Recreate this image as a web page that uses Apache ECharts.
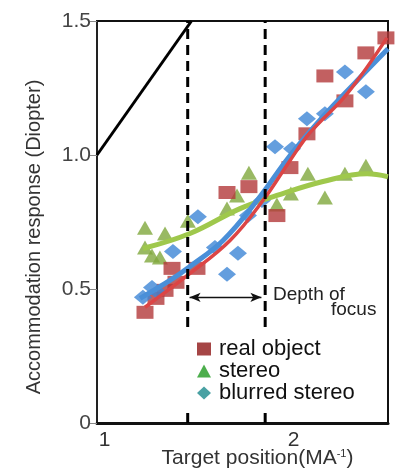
<!DOCTYPE html>
<html>
<head>
<meta charset="utf-8">
<script src="https://cdn.jsdelivr.net/npm/echarts@6/dist/echarts.min.js"></script>
<style>
html,body{margin:0;padding:0;background:#fff;}
#chart{width:396px;height:469px;}
</style>
</head>
<body>
<div id="chart"></div>
<script>
// ---- data ----
var xTicks = [1, 2];
var yTicks = [0, 0.5, 1.0, 1.5];
var legendNames = ['real object', 'stereo', 'blurred stereo'];

var realObject = [
  [1.214, 0.413], [1.272, 0.465], [1.320, 0.495], [1.378, 0.525],
  [1.357, 0.577], [1.489, 0.577], [1.648, 0.860], [1.764, 0.882],
  [1.912, 0.774], [1.981, 0.953], [2.071, 1.079], [2.166, 1.295],
  [2.272, 1.202], [2.383, 1.381], [2.489, 1.437]
];
var stereo = [
  [1.214, 0.729], [1.320, 0.707], [1.251, 0.625], [1.214, 0.655],
  [1.293, 0.618], [1.441, 0.755], [1.648, 0.800], [1.701, 0.849],
  [1.764, 0.934], [1.912, 0.815], [1.986, 0.856], [2.076, 0.930],
  [2.166, 0.841], [2.272, 0.930], [2.383, 0.960]
];
var blurredStereo = [
  [1.203, 0.469], [1.251, 0.506], [1.283, 0.488], [1.362, 0.640],
  [1.494, 0.770], [1.584, 0.655], [1.648, 0.555], [1.706, 0.633],
  [1.759, 0.774], [1.833, 0.830], [1.902, 1.031], [1.992, 1.023],
  [2.071, 1.135], [2.166, 1.154], [2.272, 1.310], [2.383, 1.236]
];
var realFit = [
  [1.214, 0.432], [1.452, 0.558], [1.664, 0.681], [1.838, 0.830],
  [1.981, 0.979], [2.087, 1.083], [2.283, 1.228], [2.494, 1.437]
];
var blurredFit = [
  [1.188, 0.465], [1.346, 0.532], [1.452, 0.584], [1.627, 0.681],
  [1.807, 0.830], [1.981, 0.997], [2.156, 1.143], [2.325, 1.269], [2.500, 1.396]
];
var stereoFit = [
  [1.203, 0.651], [1.452, 0.707], [1.717, 0.800], [1.912, 0.849],
  [2.156, 0.901], [2.389, 0.930], [2.500, 0.919]
];
var unityLine = [[0.96, 1.0], [1.46, 1.5]];
var focusLimits = [1.44, 1.85];
var arrowY = 0.469;
var arrowSpan = [1.45, 1.83];

// ---- chart ----
var chart = echarts.init(document.getElementById('chart'), null, {renderer: 'canvas'});
var FONT = 'Liberation Sans, Arial, sans-serif';

function dashedSeries(xv, withArrow) {
  var s = {
    type: 'line', name: 'dash' + xv,
    data: [[xv, 0], [xv, 1.5]],
    symbol: 'none', silent: true, z: 4,
    lineStyle: {color: '#000', width: 3, type: [10, 6]}
  };
  if (withArrow) {
    s.markLine = {
      silent: true, symbol: ['arrow', 'arrow'], symbolSize: [7, 11],
      label: {show: false},
      lineStyle: {color: '#111', width: 1.3, type: 'solid'},
      data: [[{coord: [arrowSpan[0], arrowY]}, {coord: [arrowSpan[1], arrowY]}]]
    };
  }
  return s;
}

var option = {
  animation: false,
  backgroundColor: '#fff',
  grid: {left: 97, right: 8, top: 21, bottom: 46, show: true, borderColor: '#111', borderWidth: 2,
    containLabel: false, outerBoundsMode: 'none'},
  xAxis: {
    type: 'value', min: 0.96, max: 2.5,
    splitLine: {show: false},
    axisLine: {lineStyle: {color: '#111', width: 3}},
    axisTick: {show: false},
    axisLabel: {customValues: xTicks, color: '#333', fontSize: 21, fontFamily: FONT, margin: 7,
      formatter: function (v) { return String(v); }},
    name: 'Target position(MA{sup|-1})',
    nameLocation: 'middle', nameGap: 25, nameMoveOverlap: false,
    nameTextStyle: {color: '#333', fontSize: 21, fontFamily: FONT, padding: [0, 0, 0, 30],
      rich: {sup: {fontSize: 11, verticalAlign: 'top', padding: [0, 0, 10, 0], color: '#333', fontFamily: FONT}}}
  },
  yAxis: {
    type: 'value', min: 0, max: 1.5, interval: 0.5,
    splitLine: {show: false},
    axisLine: {show: true, lineStyle: {color: '#222', width: 2}},
    axisTick: {show: true, length: 7, lineStyle: {color: '#888', width: 1}},
    axisLabel: {color: '#444', fontSize: 21, fontFamily: FONT, margin: 6,
      formatter: function (v) { return v === 0 ? '0' : v.toFixed(1); }},
    name: 'Accommodation response (Diopter)',
    nameLocation: 'middle', nameGap: 53,
    nameTextStyle: {color: '#333', fontSize: 20, fontFamily: FONT, padding: [0, 30, 0, 0]}
  },
  legend: {
    orient: 'vertical', left: 183, top: 331, itemGap: 0,
    padding: [7, 30, 8, 14],
    backgroundColor: '#fff', z: 10,
    itemWidth: 14, itemHeight: 13, selectedMode: false,
    data: [
      {name: legendNames[0], icon: 'rect'},
      {name: legendNames[1], icon: 'triangle'},
      {name: legendNames[2], icon: 'diamond'}
    ],
    textStyle: {color: '#111', fontSize: 22, lineHeight: 21, fontFamily: FONT, padding: [0, 0, 0, 3]}
  },
  graphic: [
    {type: 'text', left: 273, top: 285, style: {text: 'Depth of', fill: '#222', fontSize: 19, fontFamily: FONT}},
    {type: 'text', left: 331, top: 300, style: {text: 'focus', fill: '#222', fontSize: 19, fontFamily: FONT}}
  ],
  series: [
    // legend-only series
    {type: 'scatter', name: legendNames[0], data: [], itemStyle: {color: '#8e1616'}},
    {type: 'scatter', name: legendNames[1], data: [], itemStyle: {color: '#1f9a1f'}},
    {type: 'scatter', name: legendNames[2], data: [], itemStyle: {color: '#1b8a8c'}},
    // reference lines
    {type: 'line', name: 'unity', data: unityLine, symbol: 'none', silent: true, z: 4,
      lineStyle: {color: '#000', width: 3}},
    dashedSeries(focusLimits[0], true),
    dashedSeries(focusLimits[1], false),
    // scatter data
    {type: 'scatter', name: 'stereo data', data: stereo, symbol: 'triangle', symbolSize: [16, 14],
      itemStyle: {color: '#7fa83c'}, z: 2},
    {type: 'scatter', name: 'real data', data: realObject, symbol: 'rect', symbolSize: [17, 13],
      itemStyle: {color: '#b3383a'}, z: 2},
    {type: 'scatter', name: 'blurred data', data: blurredStereo, symbol: 'diamond', symbolSize: [18, 15],
      itemStyle: {color: '#3d86d6'}, z: 2},
    // fitted curves
    {type: 'line', name: 'stereo fit', data: stereoFit, smooth: 0.4, symbol: 'none', z: 3,
      lineStyle: {color: '#9fc84c', width: 5}},
    {type: 'line', name: 'blurred fit', data: blurredFit, smooth: 0.4, symbol: 'none', z: 3,
      lineStyle: {color: '#4a8fd8', width: 5}},
    {type: 'line', name: 'real fit', data: realFit, smooth: 0.4, symbol: 'none', z: 3,
      lineStyle: {color: '#dc4545', width: 3.5}}
  ]
};
chart.setOption(option);
</script>
</body>
</html>
